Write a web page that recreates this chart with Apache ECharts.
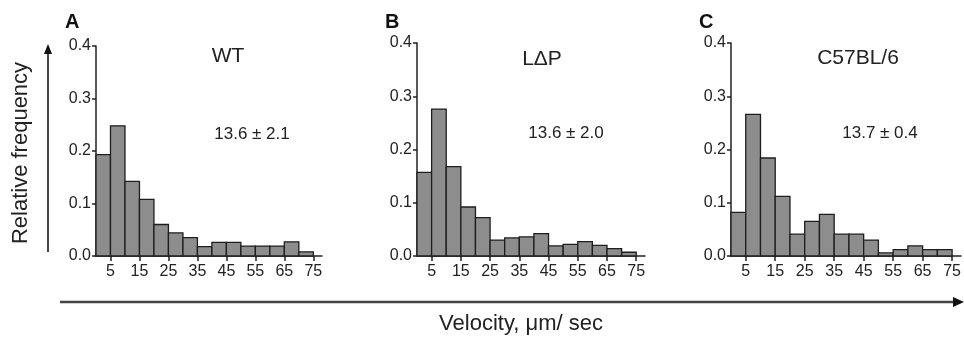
<!DOCTYPE html>
<html>
<head>
<meta charset="utf-8">
<script src="https://cdn.jsdelivr.net/npm/echarts@6/dist/echarts.min.js"></script>
<style>
  html, body { margin: 0; padding: 0; background: #fff; }
  #chart { width: 964px; height: 337px; }
</style>
</head>
<body>
<div id="chart"></div>
<script>
// histogram bins (velocity, um/sec)
const binLow  = [0, 5, 10, 15, 20, 25, 30, 35, 40, 45, 50, 55, 60, 65, 70];
const binHigh = [5, 10, 15, 20, 25, 30, 35, 40, 45, 50, 55, 60, 65, 70, 75];

// relative frequency per bin
const wtFreq  = [0.193, 0.248, 0.142, 0.108, 0.060, 0.044, 0.035, 0.018, 0.026, 0.026, 0.019, 0.019, 0.019, 0.027, 0.008];
const ldpFreq = [0.157, 0.276, 0.168, 0.092, 0.072, 0.030, 0.034, 0.036, 0.042, 0.019, 0.022, 0.027, 0.020, 0.014, 0.007];
const c57Freq = [0.082, 0.266, 0.184, 0.112, 0.041, 0.065, 0.078, 0.041, 0.041, 0.030, 0.006, 0.012, 0.019, 0.012, 0.012];

const xTickValues = [5, 15, 25, 35, 45, 55, 65, 75];
const panelLetters = ['A', 'B', 'C'];
const panelNames = ['WT', 'L\u0394P', 'C57BL/6'];
const panelStats = ['13.6 \u00b1 2.1', '13.6 \u00b1 2.0', '13.7 \u00b1 0.4'];

const FONT = '"Liberation Sans", Arial, Helvetica, sans-serif';
const INK = '#222';

const grids = [
  { left: 96,  top: 46, width: 226, height: 210 },
  { left: 417, top: 43, width: 228, height: 213 },
  { left: 731, top: 43, width: 232, height: 213 }
];

const toBins = (freq) => freq.map((v, i) => [binLow[i], binHigh[i], v]);

const renderBin = (params, api) => {
  const topLeft = api.coord([api.value(0), api.value(2)]);
  const bottomRight = api.coord([api.value(1), 0]);
  return {
    type: 'rect',
    shape: {
      x: topLeft[0],
      y: topLeft[1],
      width: bottomRight[0] - topLeft[0],
      height: bottomRight[1] - topLeft[1]
    },
    style: { fill: '#8d8d8d', stroke: '#1e1e1e', lineWidth: 1.3 }
  };
};

const xAxes = grids.map((_, i) => ({
  type: 'value',
  gridIndex: i,
  min: 0,
  max: 78,
  splitLine: { show: false },
  axisLine: { show: true, lineStyle: { color: INK, width: 1.5 } },
  axisTick: { show: true, length: 5, customValues: xTickValues, lineStyle: { color: INK, width: 1.5 } },
  axisLabel: { customValues: xTickValues, margin: 8, fontSize: 16, color: INK, fontFamily: FONT }
}));

const yAxes = grids.map((_, i) => ({
  type: 'value',
  gridIndex: i,
  min: 0,
  max: 0.4,
  interval: 0.1,
  splitLine: { show: false },
  axisLine: { show: true, lineStyle: { color: INK, width: 1.5 } },
  axisTick: { show: true, length: 4, lineStyle: { color: INK, width: 1.5 } },
  axisLabel: {
    margin: 5,
    fontSize: 16,
    color: INK,
    fontFamily: FONT,
    formatter: (v) => v.toFixed(1)
  }
}));

const series = [wtFreq, ldpFreq, c57Freq].map((freq, i) => ({
  type: 'custom',
  xAxisIndex: i,
  yAxisIndex: i,
  renderItem: renderBin,
  encode: { x: [0, 1], y: 2 },
  data: toBins(freq),
  silent: true
}));

const letterPos = [[65, 22], [385, 22], [699, 22]];
const namePos = [[228, 56], [542, 59], [858, 58]];
const statPos = [[252, 134], [566, 133], [880, 133]];

const graphic = [];
panelLetters.forEach((t, i) => {
  graphic.push({
    type: 'text', x: letterPos[i][0], y: letterPos[i][1],
    style: { text: t, font: 'bold 20px ' + FONT, fill: '#111', verticalAlign: 'middle' }
  });
  graphic.push({
    type: 'text', x: namePos[i][0], y: namePos[i][1],
    style: { text: panelNames[i], font: '21px ' + FONT, fill: INK, align: 'center', verticalAlign: 'middle' }
  });
  graphic.push({
    type: 'text', x: statPos[i][0], y: statPos[i][1],
    style: { text: panelStats[i], font: '17px ' + FONT, fill: INK, align: 'center', verticalAlign: 'middle' }
  });
});

// y arrow + title
graphic.push({
  type: 'line', shape: { x1: 48, y1: 252, x2: 48, y2: 52 },
  style: { stroke: '#333', lineWidth: 1.8 }
});
graphic.push({
  type: 'polygon', shape: { points: [[48, 44], [44, 54], [52, 54]] },
  style: { fill: '#111' }
});
graphic.push({
  type: 'text', x: 21, y: 153, rotation: Math.PI / 2,
  style: { text: 'Relative frequency', font: '22px ' + FONT, fill: INK, align: 'center', verticalAlign: 'middle' }
});

// x arrow + title
graphic.push({
  type: 'line', shape: { x1: 60, y1: 302, x2: 954, y2: 302 },
  style: { stroke: '#444', lineWidth: 2.4 }
});
graphic.push({
  type: 'polygon', shape: { points: [[964, 302], [953, 297], [953, 307]] },
  style: { fill: '#111' }
});
graphic.push({
  type: 'text', x: 521, y: 324,
  style: { text: 'Velocity, \u03bcm/ sec', font: '22px ' + FONT, fill: INK, align: 'center', verticalAlign: 'middle' }
});

const chart = echarts.init(document.getElementById('chart'));
chart.setOption({
  animation: false,
  backgroundColor: '#fff',
  grid: grids,
  xAxis: xAxes,
  yAxis: yAxes,
  series: series,
  graphic: graphic
});
</script>
</body>
</html>
